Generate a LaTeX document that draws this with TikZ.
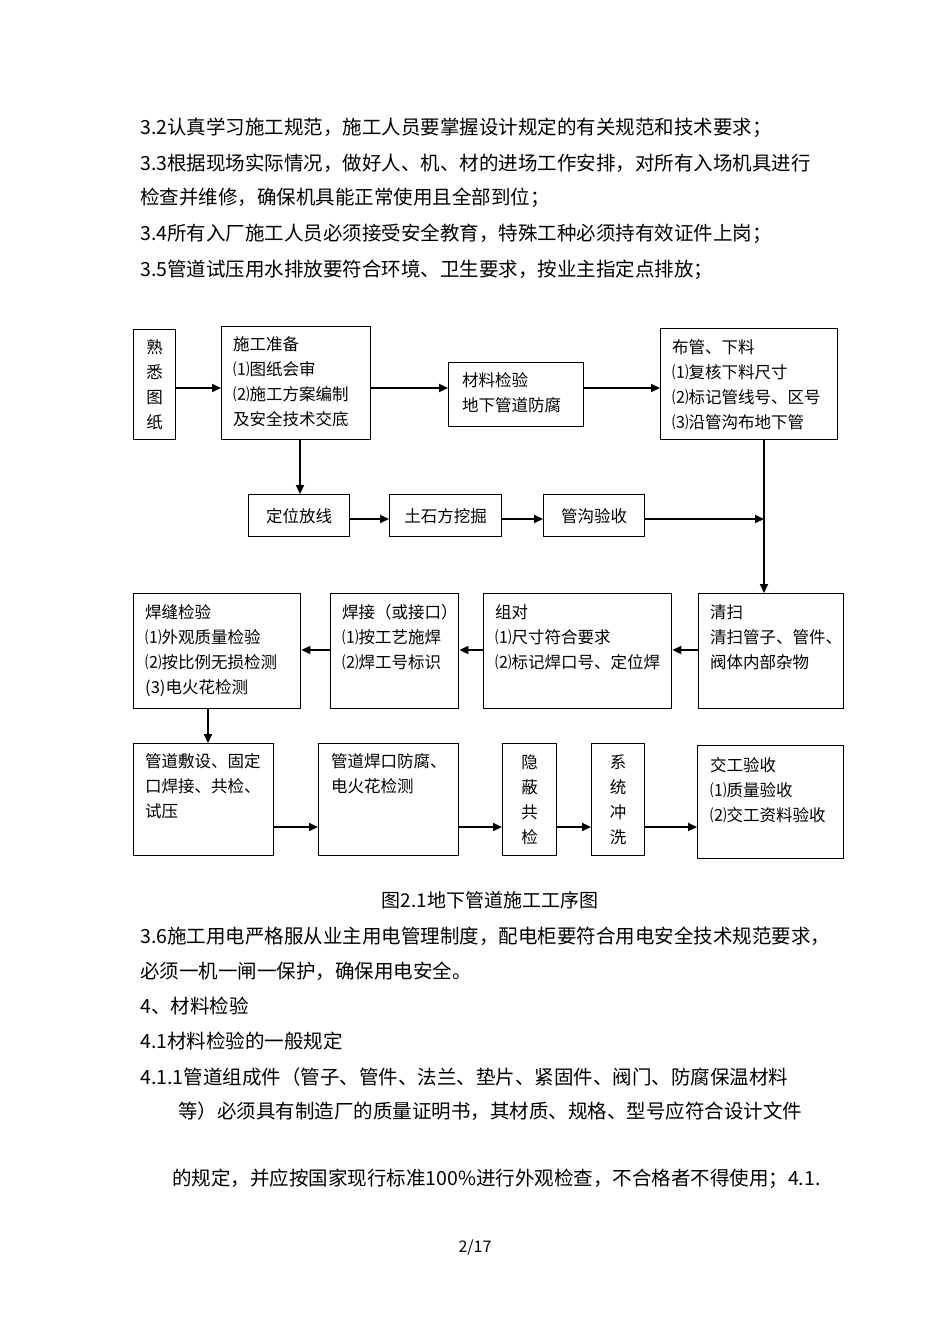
\documentclass[tikz,border=0pt]{standalone}
\usepackage{fontspec}
\setmainfont{Noto Sans CJK SC}
\usetikzlibrary{arrows.meta}
\tikzset{
  box/.style={draw=black, line width=1.4pt, inner sep=0pt, anchor=north west},
  btxt/.style={anchor=north west, inner sep=0pt, align=left, font=\fontsize{16.5}{25}\selectfont},
  vtxt/.style={inner sep=0pt, align=center, font=\fontsize{16.5}{25}\selectfont},
  ctxt/.style={inner sep=0pt, font=\fontsize{16.5}{25}\selectfont},
  body/.style={anchor=west, inner sep=0pt, font=\fontsize{19.5}{24}\selectfont},
  arr/.style={-{Triangle[length=9pt,width=8pt]}, line width=1.8pt},
  ln/.style={line width=1.8pt}
}
\begin{document}
\begin{tikzpicture}[x=1pt,y=-1pt]
\useasboundingbox (0,0) rectangle (950,1344);
\fill[white] (0,0) rectangle (950,1344);

% body text above
\node[body] (t1) at (140,128) {3.2认真学习施工规范，施工人员要掌握设计规定的有关规范和技术要求；};
\node[body] (t2) at (140,163) {3.3根据现场实际情况，做好人、机、材的进场工作安排，对所有入场机具进行};
\node[body] (t3) at (140,198) {检查并维修，确保机具能正常使用且全部到位；};
\node[body] (t4) at (140,234) {3.4所有入厂施工人员必须接受安全教育，特殊工种必须持有效证件上岗；};
\node[body] (t5) at (140,270) {3.5管道试压用水排放要符合环境、卫生要求，按业主指定点排放；};

% row 1 boxes
\node[box, minimum width=42pt, minimum height=110pt] (shuxi) at (133,329) {};
\node[vtxt] (shuxiT) at (shuxi.center) {熟\\悉\\图\\纸};
\node[box, minimum width=149pt, minimum height=113pt] (shigong) at (221,326) {};
\node[btxt] (shigongT) at (233,336) {施工准备\\⑴图纸会审\\⑵施工方案编制\\及安全技术交底};
\node[box, minimum width=135pt, minimum height=64pt] (cailiao) at (448,362) {};
\node[btxt] (cailiaoT) at (462,372) {材料检验\\地下管道防腐};
\node[box, minimum width=177pt, minimum height=111pt] (buguan) at (660,328) {};
\node[btxt] (buguanT) at (672,339) {布管、下料\\⑴复核下料尺寸\\⑵标记管线号、区号\\⑶沿管沟布地下管};

\node[box, minimum width=101pt, minimum height=42pt] (dingwei) at (248,494) {};
\node[ctxt] (dingweiT) at (dingwei.center) {定位放线};
\node[box, minimum width=112pt, minimum height=42pt] (tushi) at (389,494) {};
\node[ctxt] (tushiT) at (tushi.center) {土石方挖掘};
\node[box, minimum width=101pt, minimum height=42pt] (guangou) at (543,494) {};
\node[ctxt] (guangouT) at (guangou.center) {管沟验收};

% row 2
\node[box, minimum width=167pt, minimum height=115pt] (hanfeng) at (133,593) {};
\node[btxt] (hanfengT) at (145,604) {焊缝检验\\⑴外观质量检验\\⑵按比例无损检测\\(3)电火花检测};
\node[box, minimum width=128pt, minimum height=115pt] (hanjie) at (330,593) {};
\node[btxt] (hanjieT) at (342,604) {焊接（或接口）\\⑴按工艺施焊\\⑵焊工号标识};
\node[box, minimum width=188pt, minimum height=115pt] (zudui) at (483,593) {};
\node[btxt] (zuduiT) at (495,604) {组对\\⑴尺寸符合要求\\⑵标记焊口号、定位焊};
\node[box, minimum width=145pt, minimum height=115pt] (qingsao) at (698,593) {};
\node[btxt] (qingsaoT) at (710,604) {清扫\\清扫管子、管件、\\阀体内部杂物};

% row 3
\node[box, minimum width=140pt, minimum height=112pt] (guandao) at (133,743) {};
\node[btxt] (guandaoT) at (145,753) {管道敷设、固定\\口焊接、共检、\\试压};
\node[box, minimum width=140pt, minimum height=112pt] (fangfu) at (318,743) {};
\node[btxt] (fangfuT) at (331,753) {管道焊口防腐、\\电火花检测};
\node[box, minimum width=54pt, minimum height=112pt] (yinbi) at (502,743) {};
\node[vtxt] (yinbiT) at (yinbi.center) {隐\\蔽\\共\\检};
\node[box, minimum width=53pt, minimum height=112pt] (xitong) at (591,743) {};
\node[vtxt] (xitongT) at (xitong.center) {系\\统\\冲\\洗};
\node[box, minimum width=146pt, minimum height=113pt] (jiaogong) at (697,745) {};
\node[btxt] (jiaogongT) at (710,757) {交工验收\\⑴质量验收\\⑵交工资料验收};

% connectors
\coordinate (j) at (764,519);
\draw[arr] (shuxi.east |- 0,388) -- (shigong.west |- 0,388);
\draw[arr] (shigong.east |- 0,388) -- (cailiao.west |- 0,388);
\draw[arr] (cailiao.east |- 0,388) -- (buguan.west |- 0,388);
\draw[arr] (shigong.south -| 300,0) -- (dingwei.north -| 300,0);
\draw[arr] (dingwei.east |- 0,519) -- (tushi.west |- 0,519);
\draw[arr] (tushi.east |- 0,519) -- (guangou.west |- 0,519);
\draw[arr] (guangou.east |- 0,519) -- (j);
\draw[arr] (buguan.south -| j) -- (qingsao.north -| j);
\draw[arr] (qingsao.west |- 0,650) -- (zudui.east |- 0,650);
\draw[arr] (zudui.west |- 0,650) -- (hanjie.east |- 0,650);
\draw[arr] (hanjie.west |- 0,650) -- (hanfeng.east |- 0,650);
\draw[arr] (hanfeng.south -| 208,0) -- (guandao.north -| 208,0);
\draw[arr] (guandao.east |- 0,827) -- (fangfu.west |- 0,827);
\draw[arr] (fangfu.east |- 0,827) -- (yinbi.west |- 0,827);
\draw[arr] (yinbi.east |- 0,827) -- (xitong.west |- 0,827);
\draw[arr] (xitong.east |- 0,827) -- (jiaogong.west |- 0,827);

% caption and text below
\node[inner sep=0pt, font=\fontsize{19}{24}\selectfont] (cap) at (490,900) {图2.1地下管道施工工序图};
\node[body] (t6) at (140,936) {3.6施工用电严格服从业主用电管理制度，配电柜要符合用电安全技术规范要求，};
\node[body] (t7) at (140,971) {必须一机一闸一保护，确保用电安全。};
\node[body] (t8) at (140,1006) {4、材料检验};
\node[body] (t9) at (140,1041) {4.1材料检验的一般规定};
\node[body] (t10) at (140,1077) {4.1.1管道组成件（管子、管件、法兰、垫片、紧固件、阀门、防腐保温材料};
\node[body] (t11) at (178,1111) {等）必须具有制造厂的质量证明书，其材质、规格、型号应符合设计文件};
\node[body] (t12) at (172,1179) {的规定，并应按国家现行标准100\%进行外观检查，不合格者不得使用；4.1.};
\node[inner sep=0pt, font=\fontsize{16}{20}\selectfont] (pg) at (475,1248) {2/17};
\end{tikzpicture}
\end{document}
